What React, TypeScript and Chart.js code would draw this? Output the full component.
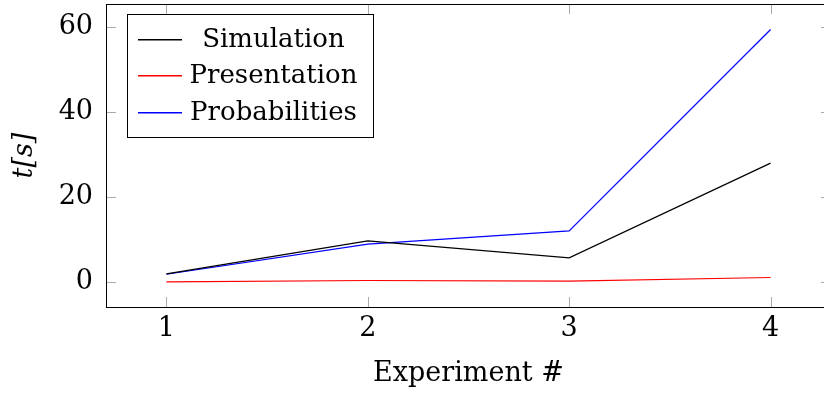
import React, { useEffect, useRef } from "react";
import { Chart, registerables } from "chart.js";

Chart.register(...registerables);

const experiments = [1, 2, 3, 4];
const simulation = [1.9, 9.65, 5.65, 27.9];
const presentation = [0.02, 0.33, 0.16, 1.03];
const probabilities = [1.8, 8.87, 12.0, 59.3];
const yTicks = [0, 20, 40, 60];
const seriesNames = ["Simulation", "Presentation", "Probabilities"];
const seriesColors = ["#000000", "#ff0000", "#0000ff"];

const FONT = "'DejaVu Serif', serif";

const frameAndTicks = {
  id: "frameAndTicks",
  beforeDatasetsDraw(chart: any) {
    const { ctx, chartArea: a, scales } = chart;
    const xs = scales.x;
    const ys = scales.y;
    ctx.save();
    ctx.strokeStyle = "#aaaaaa";
    ctx.lineWidth = 1;
    const L = 10;
    ctx.beginPath();
    for (const v of experiments) {
      const px = Math.round(xs.getPixelForValue(v)) + 0.5;
      ctx.moveTo(px, a.bottom);
      ctx.lineTo(px, a.bottom - L);
      ctx.moveTo(px, a.top);
      ctx.lineTo(px, a.top + L);
    }
    for (const v of yTicks) {
      const py = Math.round(ys.getPixelForValue(v)) + 0.5;
      ctx.moveTo(a.left, py);
      ctx.lineTo(a.left + L, py);
      ctx.moveTo(a.right, py);
      ctx.lineTo(a.right - L, py);
    }
    ctx.stroke();
    ctx.restore();
  },
  afterDatasetsDraw(chart: any) {
    const { ctx, chartArea: a } = chart;
    ctx.save();
    ctx.strokeStyle = "#000000";
    ctx.lineWidth = 1;
    ctx.strokeRect(a.left + 0.5, a.top + 0.5, a.right - a.left, a.bottom - a.top);
    ctx.restore();
  },
  afterDraw(chart: any) {
    const { ctx, chartArea: a } = chart;
    const bx = a.left + 21.5;
    const by = a.top + 10.5;
    const bw = 246;
    const bh = 123;
    ctx.save();
    ctx.fillStyle = "#ffffff";
    ctx.fillRect(bx, by, bw, bh);
    ctx.strokeStyle = "#000000";
    ctx.lineWidth = 1;
    ctx.strokeRect(bx, by, bw, bh);
    ctx.font = `26px ${FONT}`;
    ctx.textAlign = "center";
    ctx.textBaseline = "middle";
    seriesNames.forEach((name, i) => {
      const y = Math.round(by + 24 + i * 36.5);
      ctx.fillStyle = seriesColors[i];
      ctx.fillRect(Math.round(bx + 10), y, 44, 1.5);
      ctx.fillStyle = "#000000";
      ctx.fillText(name, bx + 146, y + 1.5);
    });
    ctx.restore();
  },
};

export default function App() {
  const ref = useRef<HTMLCanvasElement | null>(null);
  useEffect(() => {
    const canvas = ref.current;
    if (!canvas) return;
    const series = [simulation, presentation, probabilities];
    const chart = new Chart(canvas, {
      type: "line",
      data: {
        datasets: series.map((vals, i) => ({
          label: seriesNames[i],
          data: experiments.map((x, j) => ({ x, y: vals[j] })),
          borderColor: seriesColors[i],
          backgroundColor: seriesColors[i],
          borderWidth: 1.2,
          pointRadius: 0,
          tension: 0,
          fill: false,
        })),
      },
      options: {
        responsive: false,
        animation: false,
        devicePixelRatio: 1,
        layout: { padding: { left: 0, top: 4, right: 9, bottom: 0 } },
        plugins: { legend: { display: false }, tooltip: { enabled: false } },
        scales: {
          x: {
            type: "linear",
            min: 0.7,
            max: 4.3,
            afterBuildTicks: (s: any) => {
              s.ticks = experiments.map((v) => ({ value: v }));
            },
            afterFit: (s: any) => {
              s.height = 89;
              s.paddingLeft = 0;
              s.paddingRight = 0;
              s.paddingTop = 0;
              s.paddingBottom = 0;
            },
            grid: { display: false, drawTicks: false },
            border: { display: false },
            ticks: {
              padding: 6,
              color: "#000000",
              font: { family: FONT, size: 27 },
              maxRotation: 0,
              callback: (v: any) => String(v),
            },
            title: {
              display: true,
              text: "Experiment #",
              color: "#000000",
              font: { family: FONT, size: 27 },
              padding: { top: 0, bottom: 6 },
            },
          },
          y: {
            type: "linear",
            min: -5.9,
            max: 65.3,
            afterBuildTicks: (s: any) => {
              s.ticks = yTicks.map((v) => ({ value: v }));
            },
            afterFit: (s: any) => {
              s.width = 106;
              s.paddingLeft = 0;
              s.paddingRight = 0;
              s.paddingTop = 0;
              s.paddingBottom = 0;
            },
            grid: { display: false, drawTicks: false },
            border: { display: false },
            ticks: {
              padding: 13,
              color: "#000000",
              font: { family: FONT, size: 27 },
              callback: (v: any) => String(v),
            },
            title: {
              display: true,
              text: "t[s]",
              color: "#000000",
              font: { family: FONT, size: 27, style: "italic" },
              padding: { top: 9, bottom: 0 },
            },
          },
        },
      },
      plugins: [frameAndTicks],
    });
    return () => chart.destroy();
  }, []);

  return (
    <div
      style={{
        position: "fixed",
        left: 0,
        top: 0,
        width: 824,
        height: 396,
        overflow: "hidden",
        background: "#ffffff",
      }}
    >
      <canvas ref={ref} width={840} height={396} style={{ width: 840, height: 396, display: "block" }} />
    </div>
  );
}
